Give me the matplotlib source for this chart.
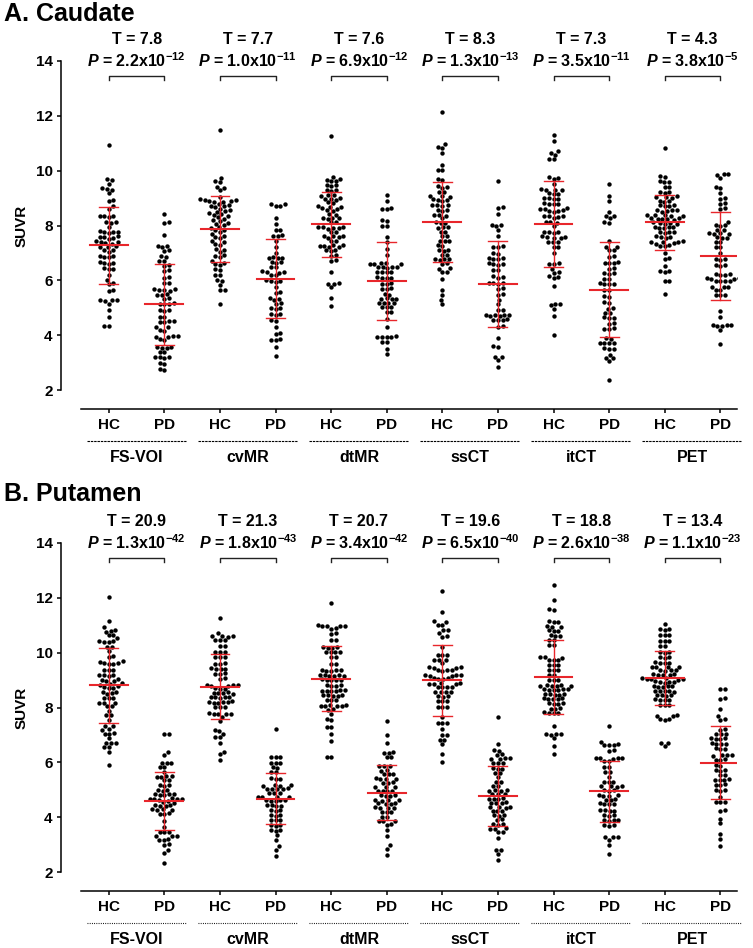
import numpy as np
import matplotlib.pyplot as plt
from matplotlib import transforms

plt.rcParams['font.family'] = ['Liberation Sans', 'DejaVu Sans']
plt.rcParams['font.weight'] = 'bold'
plt.rcParams['mathtext.fontset'] = 'custom'
plt.rcParams['mathtext.rm'] = 'Liberation Sans:bold'
plt.rcParams['mathtext.bf'] = 'Liberation Sans:bold'
plt.rcParams['mathtext.it'] = 'Liberation Sans:bold:italic'
plt.rcParams['mathtext.sf'] = 'Liberation Sans:bold'

methods = ['FS-VOI', 'cvMR', 'dtMR', 'ssCT', 'itCT', 'PET']
groups = ['HC', 'PD']

caudate_t = ['7.8', '7.7', '7.6', '8.3', '7.3', '4.3']
caudate_p = [('2.2', '-12'), ('1.0', '-11'), ('6.9', '-12'), ('1.3', '-13'), ('3.5', '-11'), ('3.8', '-5')]
putamen_t = ['20.9', '21.3', '20.7', '19.6', '18.8', '13.4']
putamen_p = [('1.3', '-42'), ('1.8', '-43'), ('3.4', '-42'), ('6.5', '-40'), ('2.6', '-38'), ('1.1', '-23')]

# ---- Caudate SUVR ----
caud_fsvoi_hc = [10.93, 9.68, 9.66, 9.53, 9.35, 9.32, 9.30, 9.17, 8.93, 8.90, 8.70, 8.62, 8.36, 8.35, 8.33, 8.30,
                 8.14, 8.12, 8.10, 7.95, 7.80, 7.78, 7.77, 7.75, 7.72, 7.60, 7.58, 7.57, 7.55, 7.52, 7.42, 7.40,
                 7.38, 7.36, 7.33, 7.25, 7.22, 7.20, 7.12, 7.10, 7.05, 6.90, 6.88, 6.86, 6.84, 6.66, 6.64, 6.62,
                 6.60, 6.45, 6.42, 6.40, 6.20, 6.02, 5.90, 5.87, 5.66, 5.62, 5.30, 5.29, 5.27, 5.25, 5.15, 4.92,
                 4.68, 4.35, 4.33]
caud_fsvoi_pd = [8.41, 8.12, 8.10, 7.65, 7.27, 7.25, 7.23, 7.10, 7.08, 6.88, 6.85, 6.72, 6.70, 6.56, 6.53, 6.38,
                 6.35, 6.12, 6.08, 5.92, 5.90, 5.68, 5.67, 5.65, 5.63, 5.61, 5.50, 5.48, 5.46, 5.34, 5.31, 5.17,
                 5.15, 5.13, 5.12, 4.93, 4.90, 4.88, 4.68, 4.65, 4.52, 4.51, 4.49, 4.47, 4.31, 4.28, 4.19, 4.16,
                 3.97, 3.96, 3.94, 3.92, 3.85, 3.83, 3.58, 3.57, 3.55, 3.53, 3.40, 3.38, 3.22, 3.21, 3.19, 3.18,
                 2.97, 2.95, 2.75, 2.73]
caud_cvmr_hc = [11.48, 9.75, 9.62, 9.58, 9.42, 9.38, 9.28, 9.05, 8.95, 8.93, 8.92, 8.90, 8.88, 8.86, 8.85, 8.78,
                8.75, 8.72, 8.70, 8.66, 8.62, 8.55, 8.52, 8.50, 8.45, 8.42, 8.38, 8.34, 8.30, 8.25, 8.20, 8.15,
                8.10, 8.05, 8.02, 7.95, 7.90, 7.85, 7.82, 7.78, 7.70, 7.62, 7.58, 7.55, 7.45, 7.38, 7.33, 7.30,
                7.15, 7.10, 7.05, 6.92, 6.88, 6.85, 6.70, 6.65, 6.60, 6.55, 6.40, 6.36, 6.20, 6.18, 6.02, 5.98,
                5.82, 5.66, 5.63, 5.15]
caud_cvmr_pd = [8.79, 8.77, 8.72, 8.70, 8.29, 8.04, 7.85, 7.82, 7.64, 7.62, 7.60, 7.45, 7.20, 7.00, 6.85, 6.83,
                6.81, 6.80, 6.68, 6.66, 6.64, 6.50, 6.47, 6.33, 6.31, 6.30, 6.28, 6.20, 6.18, 6.00, 5.98, 5.97,
                5.95, 5.77, 5.56, 5.54, 5.34, 5.32, 5.30, 5.16, 5.14, 5.00, 4.99, 4.97, 4.78, 4.76, 4.74, 4.55,
                4.52, 4.30, 4.07, 4.05, 3.86, 3.84, 3.82, 3.58, 3.24]
caud_dtmr_hc = [11.27, 9.78, 9.68, 9.66, 9.64, 9.62, 9.48, 9.46, 9.44, 9.30, 9.28, 9.26, 9.12, 9.10, 9.08, 9.00,
                8.98, 8.96, 8.94, 8.84, 8.82, 8.70, 8.68, 8.66, 8.64, 8.62, 8.56, 8.54, 8.42, 8.40, 8.29, 8.27,
                8.26, 8.24, 8.14, 8.12, 7.96, 7.95, 7.93, 7.92, 7.90, 7.88, 7.78, 7.76, 7.63, 7.62, 7.60, 7.58,
                7.56, 7.45, 7.43, 7.29, 7.28, 7.26, 7.25, 7.23, 7.21, 7.11, 7.09, 7.07, 6.93, 6.90, 6.74, 6.72,
                6.31, 5.90, 5.88, 5.86, 5.74, 5.37, 5.07]
caud_dtmr_pd = [9.12, 8.90, 8.63, 8.61, 8.59, 8.20, 8.18, 7.99, 7.97, 7.59, 7.38, 7.16, 6.92, 6.63, 6.62, 6.61,
                6.60, 6.59, 6.50, 6.49, 6.48, 6.47, 6.46, 6.32, 6.31, 6.30, 6.29, 6.11, 6.10, 6.09, 6.08, 5.89,
                5.88, 5.86, 5.71, 5.70, 5.68, 5.50, 5.48, 5.34, 5.33, 5.32, 5.31, 5.19, 5.18, 5.17, 5.16, 5.04,
                5.03, 5.02, 4.86, 4.84, 4.60, 4.30, 3.96, 3.95, 3.94, 3.93, 3.92, 3.76, 3.74, 3.51, 3.33]
caud_ssct_hc = [12.15, 10.97, 10.87, 10.84, 10.63, 10.20, 10.04, 10.01, 9.70, 9.67, 9.43, 9.41, 9.38, 9.24, 9.22,
                9.08, 9.07, 9.05, 8.95, 8.93, 8.92, 8.90, 8.76, 8.74, 8.73, 8.72, 8.57, 8.56, 8.54, 8.39, 8.37,
                8.35, 8.26, 8.11, 8.10, 8.08, 7.94, 7.93, 7.91, 7.78, 7.76, 7.62, 7.60, 7.45, 7.44, 7.42, 7.29,
                7.27, 7.11, 7.09, 7.07, 6.93, 6.91, 6.78, 6.77, 6.76, 6.74, 6.62, 6.60, 6.44, 6.42, 6.32, 6.30,
                6.06, 5.66, 5.46, 5.30, 5.14]
caud_ssct_pd = [9.62, 8.67, 8.65, 8.41, 8.03, 8.01, 7.99, 7.83, 7.62, 7.24, 7.22, 7.20, 6.99, 6.97, 6.82, 6.80,
                6.78, 6.76, 6.63, 6.61, 6.59, 6.57, 6.38, 6.36, 6.14, 6.12, 6.10, 5.92, 5.91, 5.90, 5.88, 5.71,
                5.69, 5.50, 5.48, 5.30, 5.13, 4.92, 4.90, 4.75, 4.74, 4.73, 4.72, 4.71, 4.70, 4.58, 4.57, 4.56,
                4.55, 4.33, 4.31, 3.91, 3.60, 3.58, 3.22, 3.20, 3.10, 2.85]
caud_itct_hc = [11.29, 11.08, 10.70, 10.66, 10.57, 10.44, 10.41, 9.76, 9.74, 9.68, 9.50, 9.33, 9.31, 9.30, 9.28,
                9.18, 9.16, 9.14, 9.00, 8.99, 8.98, 8.96, 8.81, 8.80, 8.79, 8.77, 8.63, 8.62, 8.60, 8.55, 8.54,
                8.52, 8.50, 8.36, 8.34, 8.33, 8.31, 8.29, 8.14, 8.12, 8.10, 7.99, 7.78, 7.77, 7.75, 7.73, 7.60,
                7.59, 7.57, 7.55, 7.53, 7.41, 7.40, 7.38, 7.23, 7.21, 7.00, 6.63, 6.61, 6.59, 6.43, 6.29, 6.27,
                6.14, 6.12, 6.10, 5.78, 5.15, 5.13, 5.11, 4.97, 4.71, 3.99]
caud_itct_pd = [9.53, 9.07, 8.90, 8.50, 8.36, 8.34, 8.26, 8.11, 8.09, 7.44, 7.23, 7.21, 7.11, 7.09, 6.87, 6.85,
                6.66, 6.65, 6.63, 6.62, 6.44, 6.42, 6.26, 6.25, 6.24, 6.06, 6.04, 5.89, 5.88, 5.87, 5.86, 5.65,
                5.63, 5.43, 5.41, 5.21, 5.19, 4.98, 4.96, 4.82, 4.80, 4.65, 4.64, 4.63, 4.43, 4.41, 4.25, 4.24,
                4.23, 3.88, 3.86, 3.73, 3.72, 3.71, 3.70, 3.52, 3.51, 3.50, 3.29, 3.18, 3.16, 3.05, 2.37]
caud_pet_hc = [10.82, 9.79, 9.77, 9.61, 9.59, 9.57, 9.42, 9.40, 9.24, 9.22, 9.20, 9.06, 9.04, 9.03, 9.01, 8.91,
               8.89, 8.87, 8.75, 8.73, 8.72, 8.70, 8.57, 8.56, 8.55, 8.53, 8.51, 8.39, 8.38, 8.37, 8.35, 8.33,
               8.27, 8.26, 8.25, 8.24, 8.22, 8.20, 8.11, 8.10, 8.09, 8.07, 8.05, 7.96, 7.95, 7.94, 7.92, 7.90,
               7.78, 7.77, 7.75, 7.73, 7.60, 7.59, 7.57, 7.55, 7.42, 7.41, 7.40, 7.38, 7.36, 7.34, 7.29, 7.27,
               7.25, 6.98, 6.81, 6.79, 6.52, 6.35, 6.33, 6.31, 5.98, 5.96, 5.51]
caud_pet_pd = [9.89, 9.87, 9.85, 9.75, 9.40, 9.38, 9.17, 9.00, 8.98, 8.81, 8.79, 8.63, 8.61, 8.13, 8.02, 8.01,
               8.00, 7.84, 7.82, 7.72, 7.71, 7.70, 7.69, 7.57, 7.56, 7.55, 7.41, 7.39, 7.23, 7.21, 6.98, 6.77,
               6.76, 6.75, 6.56, 6.55, 6.54, 6.23, 6.22, 6.21, 6.20, 6.08, 6.07, 6.06, 6.05, 5.99, 5.98, 5.97,
               5.96, 5.77, 5.76, 5.75, 5.65, 5.63, 5.47, 5.46, 5.45, 4.88, 4.67, 4.38, 4.37, 4.36, 4.35, 4.34,
               4.18, 3.69]

# ---- Putamen SUVR ----
put_fsvoi_hc = [12.04, 11.15, 10.92, 10.81, 10.79, 10.77, 10.65, 10.63, 10.52, 10.42, 10.41, 10.39, 10.38, 10.22,
                10.20, 10.06, 9.88, 9.86, 9.68, 9.66, 9.62, 9.61, 9.59, 9.58, 9.37, 9.36, 9.35, 9.19, 9.18, 9.17,
                9.16, 9.04, 9.01, 8.98, 8.95, 8.89, 8.86, 8.83, 8.80, 8.74, 8.72, 8.70, 8.58, 8.56, 8.54, 8.50,
                8.36, 8.35, 8.34, 8.18, 8.17, 8.16, 8.06, 8.04, 7.88, 7.73,
                7.71, 7.56, 7.33, 7.31, 7.21, 7.19, 7.06, 7.05, 7.04, 6.87, 6.72, 6.71, 6.70, 6.57, 6.55, 6.37,
                5.89]
put_fsvoi_pd = [7.04, 7.02, 6.38, 6.26, 5.99, 5.98, 5.97, 5.84, 5.82, 5.65, 5.50, 5.49, 5.48, 5.47, 5.36, 5.34,
                5.17, 5.16, 5.15, 4.99, 4.98, 4.97, 4.85, 4.84, 4.83, 4.82, 4.81, 4.69, 4.68, 4.67, 4.66, 4.65,
                4.62, 4.59, 4.56, 4.53, 4.44, 4.43, 4.42, 4.41, 4.29, 4.28, 4.27, 4.26, 4.14, 4.13,
                4.12, 3.86, 3.64, 3.47, 3.46, 3.45, 3.32, 3.31, 3.30, 3.19, 3.18, 3.17, 3.02, 3.00, 2.81, 2.69,
                2.34]
put_cvmr_hc = [11.25, 10.70, 10.62, 10.61, 10.59, 10.58, 10.47, 10.46, 10.45, 10.25, 10.23, 10.04, 10.03, 10.02,
               9.86, 9.85, 9.84, 9.61, 9.60, 9.59, 9.43, 9.42, 9.41, 9.40, 9.25, 9.24, 9.23, 9.07, 9.05, 8.83,
               8.82, 8.81, 8.80, 8.79, 8.70, 8.69, 8.68, 8.55, 8.54, 8.53, 8.52, 8.51, 8.40, 8.39, 8.38, 8.37,
               8.36, 8.22, 8.21, 8.20, 8.19, 8.18, 8.17, 8.03, 8.02, 8.01, 7.79, 7.78, 7.77, 7.76, 7.75, 7.66,
               7.51, 7.18, 7.16, 7.05, 6.94, 6.92, 6.71, 6.38, 6.30, 6.08]
put_cvmr_pd = [7.23, 6.21, 6.20, 6.19, 5.99, 5.98, 5.97, 5.82, 5.80, 5.66, 5.64, 5.42, 5.41, 5.40, 5.17, 5.16,
               5.15, 5.14, 5.05, 5.04, 5.03, 5.02, 5.01, 4.89, 4.88, 4.87, 4.75, 4.74, 4.73, 4.72, 4.63, 4.62,
               4.61, 4.60, 4.59, 4.44, 4.43, 4.42, 4.41, 4.26, 4.25, 4.24, 4.08, 4.07, 4.06, 3.90, 3.89, 3.88,
               3.71, 3.70, 3.69, 3.53, 3.52, 3.51, 3.34, 3.18, 2.94, 2.81, 2.57]
put_dtmr_hc = [11.82, 11.00, 10.99, 10.98, 10.97, 10.96, 10.89, 10.87, 10.71, 10.69, 10.47, 10.45, 10.20, 10.19,
               10.18, 10.17, 10.04, 10.03, 10.02, 10.01, 9.86, 9.84, 9.59, 9.57, 9.37, 9.36, 9.35, 9.34, 9.33,
               9.19, 9.18, 9.17, 9.16, 9.15, 9.14, 9.03, 9.02, 9.01, 9.00, 8.99, 8.82, 8.81, 8.80, 8.79, 8.64,
               8.63, 8.62, 8.61, 8.60, 8.59, 8.46, 8.45, 8.44, 8.43, 8.42, 8.28, 8.27, 8.26, 8.09, 8.08, 8.07,
               8.06, 8.05, 8.04, 7.94, 7.92, 7.78, 7.57, 7.55, 7.30, 7.28, 7.05, 6.78, 6.21, 6.19]
put_dtmr_pd = [7.51, 6.99, 6.71, 6.37, 6.35, 6.33, 6.21, 6.19, 5.87, 5.86, 5.85, 5.72, 5.70, 5.58, 5.57, 5.56,
               5.42, 5.41, 5.40, 5.39, 5.27, 5.26, 5.25, 5.11, 5.10, 5.09, 4.97, 4.96, 4.95, 4.94, 4.81, 4.80,
               4.79, 4.78, 4.63, 4.62, 4.61, 4.60, 4.51, 4.50, 4.49, 4.48, 4.36, 4.35, 4.34, 4.33, 4.20, 4.19,
               4.18, 4.02, 4.00, 3.87, 3.86, 3.85, 3.75, 3.73, 3.52, 3.30, 2.97, 2.85, 2.63]
put_ssct_hc = [12.24, 11.49, 11.14, 11.12, 11.02, 11.00, 10.83, 10.81, 10.70, 10.59, 10.57, 10.21, 9.92, 9.91,
               9.90, 9.74, 9.73, 9.72, 9.61, 9.47, 9.46, 9.45, 9.44, 9.37, 9.36, 9.35, 9.34, 9.19, 9.18, 9.17,
               9.16, 9.15, 9.07, 9.06, 9.05, 9.04, 8.89, 8.88, 8.87, 8.86, 8.85, 8.76, 8.75, 8.74, 8.73, 8.58,
               8.57, 8.56, 8.55, 8.42, 8.41, 8.40, 8.25, 8.24, 8.23, 8.03, 8.02, 8.01, 7.66, 7.45, 7.44, 7.43,
               7.20, 7.00, 6.98, 6.82, 6.80, 6.66, 6.32, 6.02]
put_ssct_pd = [7.65, 6.66, 6.45, 6.43, 6.29, 6.27, 6.15, 6.14, 6.13, 6.12, 5.99, 5.98, 5.97, 5.78, 5.77, 5.76,
               5.62, 5.60, 5.47, 5.30, 5.28, 5.14, 5.12, 4.99, 4.98, 4.97, 4.96, 4.85, 4.84, 4.83, 4.69, 4.68,
               4.67, 4.66, 4.54, 4.53, 4.52, 4.51, 4.38, 4.37, 4.36, 4.35, 4.24, 4.23, 4.22, 4.08, 4.07, 4.06,
               3.92, 3.90, 3.75, 3.74, 3.73, 3.59, 3.58, 3.57, 3.47, 3.45, 3.25, 2.82, 2.80, 2.67, 2.43]
put_itct_hc = [12.47, 11.92, 11.59, 11.57, 11.14, 11.13, 11.12, 10.96, 10.95, 10.94, 10.81, 10.80, 10.79, 10.63,
               10.62, 10.61, 10.47, 10.45, 10.29, 10.27, 9.84, 9.83, 9.82, 9.74, 9.73, 9.72, 9.56, 9.55, 9.54,
               9.37, 9.36, 9.35, 9.19, 9.17, 9.01, 9.00, 8.99, 8.82, 8.81, 8.80, 8.79, 8.78, 8.77, 8.68, 8.67,
               8.66, 8.65, 8.64, 8.63, 8.50, 8.49, 8.48, 8.47, 8.46, 8.34, 8.33, 8.32, 8.31, 8.30, 8.16, 8.15,
               8.14, 8.13, 7.97, 7.96, 7.95, 7.82, 7.81, 7.80, 7.79, 7.32, 7.04, 7.03, 7.02, 7.01, 6.87, 6.60,
               6.31]
put_itct_pd = [7.32, 6.75, 6.66, 6.65, 6.64, 6.63, 6.45, 6.43, 6.17, 6.16, 6.15, 6.14, 6.13, 6.06, 6.04, 5.84,
               5.82, 5.66, 5.64, 5.47, 5.30, 5.29, 5.28, 5.14, 5.13, 5.12, 5.11, 4.99, 4.98, 4.97, 4.81, 4.80,
               4.79, 4.78, 4.65, 4.64, 4.63, 4.50, 4.49, 4.48, 4.47, 4.26, 4.25, 4.24, 4.23, 4.08, 4.07, 4.06,
               3.90, 3.89, 3.88, 3.87, 3.71, 3.70, 3.69, 3.29, 3.28, 3.27, 3.18, 2.97, 2.66]
put_pet_hc = [11.04, 10.86, 10.85, 10.84, 10.65, 10.64, 10.63, 10.43, 10.42, 10.41, 10.25, 10.23, 10.02, 10.01,
              10.00, 9.84, 9.83, 9.82, 9.65, 9.64, 9.63, 9.62, 9.49, 9.48, 9.47, 9.46, 9.37, 9.36, 9.35, 9.34,
              9.22, 9.21, 9.20, 9.19, 9.18, 9.07, 9.06, 9.05, 9.04, 9.03, 9.02, 8.95, 8.94, 8.93, 8.92, 8.91,
              8.79, 8.78, 8.77, 8.76, 8.75, 8.62, 8.61, 8.60, 8.59, 8.58, 8.46, 8.45, 8.44, 8.43, 8.30, 8.29,
              8.28, 8.27, 8.10, 8.09, 8.08, 7.71, 7.70, 7.69, 7.58, 7.57, 7.56, 6.72, 6.70, 6.59]
put_pet_pd = [8.68, 8.66, 8.34, 8.32, 7.96, 7.70, 7.57, 7.55, 7.21, 7.19, 7.04, 7.03, 7.02, 6.88, 6.87, 6.86,
              6.85, 6.69, 6.68, 6.67, 6.66, 6.51, 6.50, 6.49, 6.27, 6.26, 6.25, 6.24, 6.11, 6.10, 6.09, 5.90,
              5.88, 5.72, 5.71, 5.70, 5.54, 5.52, 5.38, 5.37, 5.36, 5.35, 5.20, 5.19, 5.18, 4.99, 4.98, 4.97,
              4.74, 4.57, 4.56, 4.55, 4.26, 4.24, 3.95, 3.77, 3.40, 3.22, 2.96]

caudate = [caud_fsvoi_hc, caud_fsvoi_pd, caud_cvmr_hc, caud_cvmr_pd, caud_dtmr_hc, caud_dtmr_pd,
           caud_ssct_hc, caud_ssct_pd, caud_itct_hc, caud_itct_pd, caud_pet_hc, caud_pet_pd]
putamen = [put_fsvoi_hc, put_fsvoi_pd, put_cvmr_hc, put_cvmr_pd, put_dtmr_hc, put_dtmr_pd,
           put_ssct_hc, put_ssct_pd, put_itct_hc, put_itct_pd, put_pet_hc, put_pet_pd]

W, H = 753, 948
fig = plt.figure(figsize=(W / 100, H / 100), dpi=100)
RED = '#e8262b'


def swarm(ypix, d):
    # simple beeswarm: put each dot as close to the centre as it can go
    order = np.argsort(ypix)
    px_list, py_list = [], []
    xs = np.zeros(len(ypix))
    for k, i in enumerate(order):
        y = ypix[i]
        cands = [0.0]
        for px, py in zip(px_list, py_list):
            dy = abs(y - py)
            if dy < d:
                dx = np.sqrt(d * d - dy * dy)
                cands += [px + dx, px - dx]
        sgn = 1 if k % 2 else -1
        cands.sort(key=lambda c: (round(abs(c), 3), sgn * c))
        best = 0.0
        for c in cands:
            if all((c - px) ** 2 + (y - py) ** 2 >= d * d - 1e-6 for px, py in zip(px_list, py_list)):
                best = c
                break
        xs[i] = best
        px_list.append(best)
        py_list.append(y)
    return xs


def panel(top_px, data, tvals, pvals, title, title_px, under_style):
    ax = fig.add_axes([81 / W, 1 - (top_px + 329) / H, 656 / W, 329 / H])
    ax.set_xlim(-0.5, 11.3)
    ax.set_ylim(2, 14)
    for s in ['top', 'right']:
        ax.spines[s].set_visible(False)
    ax.spines['left'].set_position(('outward', 14.4))
    ax.spines['bottom'].set_position(('outward', 14))
    for s in ['left', 'bottom']:
        ax.spines[s].set_linewidth(1.1)
    ax.set_yticks(range(2, 15, 2))
    ax.set_xticks(range(12))
    ax.set_xticklabels(groups * 6)
    ax.tick_params(axis='y', length=3, width=1.1, labelsize=11, pad=3)
    ax.tick_params(axis='x', length=3, width=1.1, labelsize=11, pad=3)
    ax.set_ylabel('SUVR', fontsize=11, fontweight='bold', labelpad=5)

    ppu = ax.transData.transform((1, 0))[0] - ax.transData.transform((0, 0))[0]
    for i, vals in enumerate(data):
        v = np.array(vals)
        ypix = ax.transData.transform(np.column_stack([np.zeros(len(v)), v]))[:, 1]
        xo = swarm(ypix, 4.7) / ppu
        ax.scatter(i + xo, v, s=10, color='black', linewidths=0, zorder=2)
        m, sd = v.mean(), v.std(ddof=1)
        ax.plot([i - 0.34, i + 0.34], [m, m], color=RED, lw=1.5, zorder=3)
        ax.plot([i, i], [m - sd, m + sd], color=RED, lw=1.0, zorder=3)
        ax.plot([i - 0.17, i + 0.17], [m + sd, m + sd], color=RED, lw=1.0, zorder=3)
        ax.plot([i - 0.17, i + 0.17], [m - sd, m - sd], color=RED, lw=1.0, zorder=3)

    trans = transforms.blended_transform_factory(ax.transData, ax.transAxes)
    for j, name in enumerate(methods):
        x0, x1 = 2 * j, 2 * j + 1
        ax.plot([x0, x0, x1, x1], [13.30, 13.44, 13.44, 13.30], color='#222222', lw=1.0, clip_on=False)
        ax.text(x0 + 0.5, 14.77, 'T = ' + tvals[j], ha='center', va='center', fontsize=11.5,
                fontweight='bold', clip_on=False)
        mant, ex = pvals[j]
        ax.text(x0 + 0.5, 14.0, r'$\mathit{P}$ = ' + mant + r'x10$^{' + ex + '}$', ha='center',
                va='center', fontsize=11.5, fontweight='bold', clip_on=False)
        # dashed rule and method name under the HC / PD labels
        off = transforms.ScaledTranslation(0, -51 / 100, fig.dpi_scale_trans)
        ax.plot([x0 - 0.4, x1 + 0.38], [0, 0], transform=trans + off, color='black', lw=0.8,
                linestyle=under_style, clip_on=False)
        off2 = transforms.ScaledTranslation(0, -68 / 100, fig.dpi_scale_trans)
        ax.text(x0 + 0.5, 0, name, transform=trans + off2, ha='center', va='center', fontsize=11.5,
                fontweight='bold')

    fig.text(4 / W, 1 - title_px / H, title, fontsize=18, fontweight='bold', va='center', ha='left')
    return ax


panel(61, caudate, caudate_t, caudate_p, 'A. Caudate', 14, (0, (2.2, 0.8)))
panel(543, putamen, putamen_t, putamen_p, 'B. Putamen', 494, (0, (0.8, 1.2)))

fig.savefig('out.png', dpi=100)
